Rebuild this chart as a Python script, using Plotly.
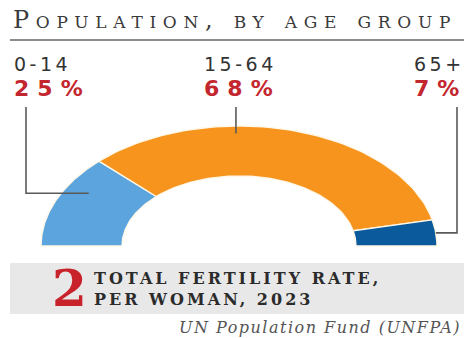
import math
import plotly.graph_objects as go

# Population shares by age group (%)
groups = ["0-14", "15-64", "65+"]
shares = [25, 68, 7]
slice_colors = ["#5ba4dd", "#f7941d", "#0b5b9c"]

title_text = "Population, by age group"
fertility_rate = 2
fertility_lines = ["TOTAL FERTILITY RATE,", "PER WOMAN, 2023"]
source_text = "UN Population Fund (UNFPA)"

W, H = 464, 338

# Half-ring geometry in page pixels (y grows downward)
CX, CY = 239, 246
RX_OUT, RY_OUT = 198, 120
RX_IN, RY_IN = 117, 70

# Where each leader line meets its slice: position along the slice (0..1),
# radial depth (0 = inner edge, 1 = outer edge) and the x of the vertical run
leader_style = [
    dict(along=0.67, depth=0.70, elbow_x=26),
    dict(along=0.36, depth=0.85, elbow_x=None),
    dict(along=0.50, depth=1.00, elbow_x=457),
]
LEADER_TOP = 107
label_x = [12, 202, 412]


def ring_point(theta_deg, depth):
    rx = RX_IN + depth * (RX_OUT - RX_IN)
    ry = RY_IN + depth * (RY_OUT - RY_IN)
    t = math.radians(theta_deg)
    return CX + rx * math.cos(t), CY - ry * math.sin(t)


def arc(a0, a1, depth, n=80):
    pts = [ring_point(a0 + (a1 - a0) * i / n, depth) for i in range(n + 1)]
    return [p[0] for p in pts], [p[1] for p in pts]


fig = go.Figure()

total = sum(shares)
cum = 0
bounds = []
for name, val, col in zip(groups, shares, slice_colors):
    a0 = 180 - 180 * cum / total
    cum += val
    a1 = 180 - 180 * cum / total
    bounds.append((a0, a1))
    ox, oy = arc(a0, a1, 1.0)
    ix, iy = arc(a1, a0, 0.0)
    fig.add_trace(go.Scatter(
        x=ox + ix + [ox[0]], y=oy + iy + [oy[0]],
        mode="lines", fill="toself", fillcolor=col,
        line=dict(color="#fff8e8", width=1.4),
        hoverinfo="skip", name=name,
    ))

# Leader lines from the labels down to the slices
for (a0, a1), st in zip(bounds, leader_style):
    theta = a0 + (a1 - a0) * st["along"]
    px, py = ring_point(theta, st["depth"])
    if st["elbow_x"] is None:
        xs, ys = [px, px], [LEADER_TOP, py]
    else:
        xs, ys = [st["elbow_x"], st["elbow_x"], px], [LEADER_TOP, py, py]
    fig.add_trace(go.Scatter(
        x=xs, y=ys, mode="lines",
        line=dict(color="#5a5a5a", width=1.6),
        hoverinfo="skip",
    ))


def spaced(s, px):
    # tracking between glyphs, none after the last one
    return f"<span style='letter-spacing:{px}px'>{s[:-1]}</span>{s[-1]}"


def label(x, y, text, font, xanchor="left", align="left"):
    return dict(x=x, y=y, xref="x", yref="y", xanchor=xanchor, yanchor="middle",
                text=text, font=font, showarrow=False, align=align)


ann = []
# Title in small capitals
ann.append(label(
    11, 20, spaced(title_text, 6.7),
    dict(family="DejaVu Serif", size=24, color="#3a3a3a", variant="small-caps"),
))
# Age group names and their shares
for name, val, lx in zip(groups, shares, label_x):
    ann.append(label(
        lx, 64, spaced(name, 3.5),
        dict(family="DejaVu Sans", size=19, color="#333333"),
    ))
    ann.append(label(
        lx, 88, f"<b>{spaced(f'{val}%', 8)}</b>",
        dict(family="DejaVu Sans", size=22, color="#c3262e"),
    ))
# Fertility panel
ann.append(label(
    50, 288, f"<b>{fertility_rate}</b>",
    dict(family="DejaVu Serif", size=50, color="#c8232b"),
))
fert_text = "<br>".join(f"<b>{spaced(line, 3)}</b>" for line in fertility_lines)
ann.append(label(
    92, 289, fert_text,
    dict(family="DejaVu Serif", size=16, color="#2b2b2b"),
))
ann.append(label(
    462, 327, f"<i>{spaced(source_text, 1.5)}</i>",
    dict(family="DejaVu Serif", size=16, color="#555555"), xanchor="right",
))

shapes = [
    dict(type="line", xref="x", yref="y", x0=10, x1=W, y0=40, y1=40,
         line=dict(color="#8c8c8c", width=2), layer="below"),
    dict(type="rect", xref="x", yref="y", x0=10, x1=W, y0=263, y1=314,
         fillcolor="#e8e8e8", line=dict(width=0), layer="below"),
]

fig.update_layout(
    width=W, height=H,
    margin=dict(l=0, r=0, t=0, b=0),
    paper_bgcolor="white", plot_bgcolor="white",
    showlegend=False,
    xaxis=dict(range=[0, W], visible=False, fixedrange=True),
    yaxis=dict(range=[H, 0], visible=False, fixedrange=True),
    annotations=ann, shapes=shapes,
)

fig.write_html("out.html", config=dict(displayModeBar=False))
